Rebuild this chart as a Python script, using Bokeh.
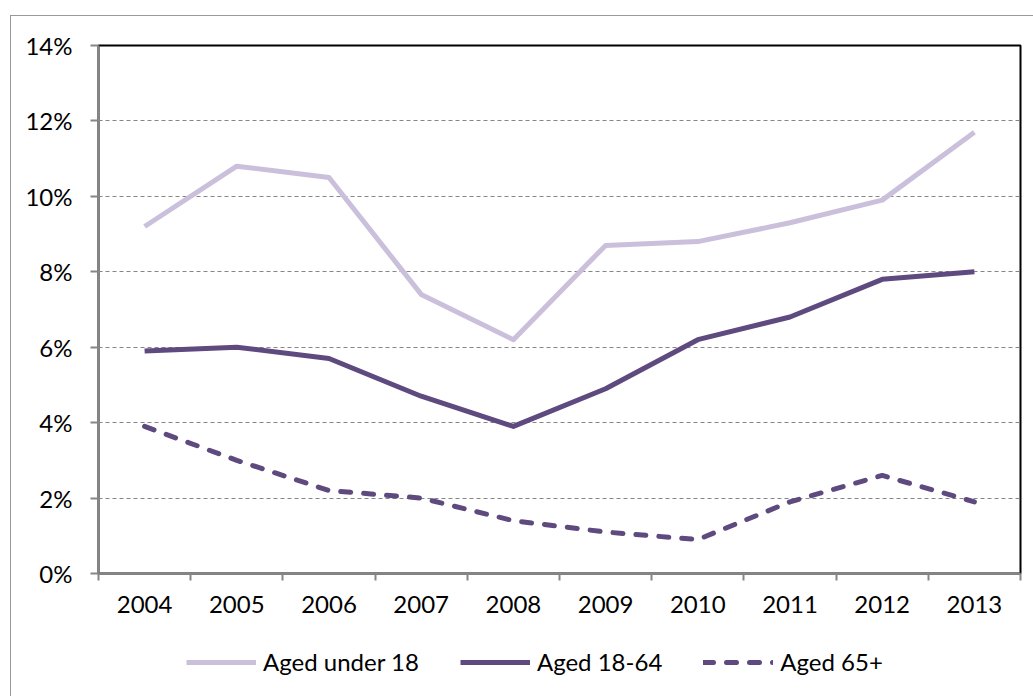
from bokeh.plotting import figure
from bokeh.layouts import column
from bokeh.models import Range1d, FixedTicker, NumeralTickFormatter, Legend, LegendItem
from bokeh.embed import file_html
from bokeh.resources import INLINE

# Share of people in each age group, by year (per cent)
years = ["2004", "2005", "2006", "2007", "2008", "2009", "2010", "2011", "2012", "2013"]
aged_under_18 = [9.2, 10.8, 10.5, 7.4, 6.2, 8.7, 8.8, 9.3, 9.9, 11.7]
aged_18_64 = [5.9, 6.0, 5.7, 4.7, 3.9, 4.9, 6.2, 6.8, 7.8, 8.0]
aged_65_plus = [3.9, 3.0, 2.2, 2.0, 1.4, 1.1, 0.9, 1.9, 2.6, 1.9]
y_ticks = [0, 2, 4, 6, 8, 10, 12, 14]
series_names = ["Aged under 18", "Aged 18-64", "Aged 65+"]

FONT = "Lato"
FONT_SIZE = "24px"
LIGHT = "#CBC0DB"
DARK = "#5E4A7E"
GREY = "#868686"
STYLES = [dict(line_color=LIGHT),
          dict(line_color=DARK),
          dict(line_color=DARK, line_dash="10 13", line_cap="round")]
SERIES = [aged_under_18, aged_18_64, aged_65_plus]

# each year sits in the middle of its own unit-wide band
xs = [i + 0.5 for i in range(len(years))]
band_edges = list(range(len(years) + 1))

p = figure(width=1022, height=624, output_backend="svg", toolbar_location=None,
           x_range=Range1d(0, len(years)), y_range=Range1d(0, 0.14),
           min_border_left=87, min_border_right=13, min_border_top=29,
           min_border_bottom=67)
p.background_fill_color = "white"
p.border_fill_color = "white"
p.outline_line_color = "black"
p.outline_line_width = 2

for values, style in zip(SERIES, STYLES):
    p.line(xs, [v / 100 for v in values], line_width=5, line_join="round", **style)

# x axis: year labels centred in bands, tick marks on the band edges
xax = p.xaxis[0]
xax.ticker = FixedTicker(ticks=xs, minor_ticks=band_edges)
xax.major_label_overrides = {x: y for x, y in zip(xs, years)}
xax.major_tick_line_color = None
xax.minor_tick_out = 7
xax.minor_tick_in = 0
xax.minor_tick_line_color = GREY
xax.minor_tick_line_width = 2
xax.axis_line_color = GREY
xax.axis_line_width = 2
xax.major_label_standoff = 15
xax.major_label_text_font = FONT
xax.major_label_text_font_size = FONT_SIZE
xax.major_label_text_color = "black"

# y axis: percentages
yax = p.yaxis[0]
yax.ticker = FixedTicker(ticks=[t / 100 for t in y_ticks])
yax.formatter = NumeralTickFormatter(format="0%")
yax.minor_tick_line_color = None
yax.major_tick_out = 8
yax.major_tick_in = 0
yax.major_tick_line_color = GREY
yax.major_tick_line_width = 2
yax.axis_line_color = GREY
yax.axis_line_width = 2
yax.major_label_standoff = 18
yax.major_label_text_font = FONT
yax.major_label_text_font_size = FONT_SIZE
yax.major_label_text_color = "black"

p.xgrid.visible = False
p.ygrid.ticker = FixedTicker(ticks=[t / 100 for t in y_ticks[1:-1]])
p.ygrid.grid_line_color = GREY
p.ygrid.grid_line_width = 1.2
p.ygrid.grid_line_dash = "4 3"

# key strip below the chart: same line styles, keyed by series name
key = figure(width=1022, height=56, output_backend="svg", toolbar_location=None,
             x_range=Range1d(-20, -10), y_range=Range1d(0, 1),
             x_axis_type=None, y_axis_type=None,
             min_border_left=0, min_border_right=0, min_border_top=0,
             min_border_bottom=0)
key.outline_line_color = None
key.grid.visible = False
key.background_fill_color = "white"
key.border_fill_color = "white"
key_items = []
for name, values, style in zip(series_names, SERIES, STYLES):
    r = key.line(xs, [v / 100 for v in values], line_width=5, line_join="round", **style)
    key_items.append(LegendItem(label=name, renderers=[r]))
key.add_layout(Legend(items=key_items, orientation="horizontal", location=(88, 20),
                      glyph_width=70, glyph_height=24, label_height=24,
                      label_standoff=7, spacing=41, padding=0, margin=0,
                      label_text_font=FONT, label_text_font_size=FONT_SIZE,
                      label_text_color="black",
                      border_line_alpha=0, background_fill_alpha=0))

# thin frame along the top and left of the chart area
page = column(p, key, spacing=0, margin=(15, 0, 0, 10),
              styles={"border-left": "1px solid #999999",
                      "border-top": "1px solid #999999"})

open("out.html", "w").write(file_html(page, INLINE))
